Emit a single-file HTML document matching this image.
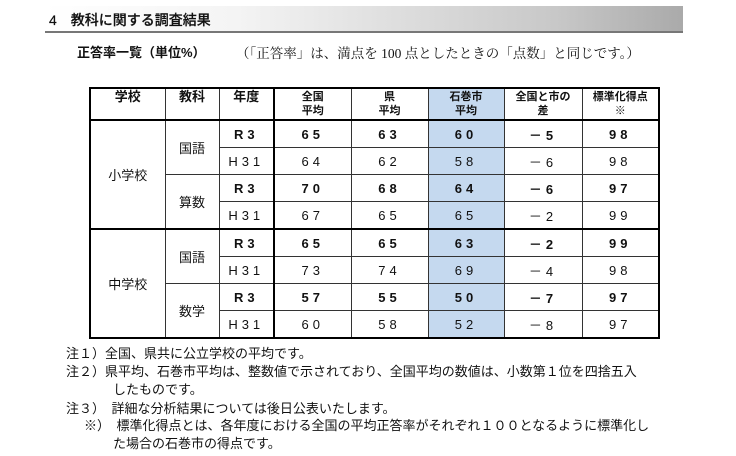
<!DOCTYPE html><html><head><meta charset="utf-8"><style>
body{margin:0;width:736px;height:456px;background:#fff;font-family:"Liberation Sans","Noto Sans CJK JP",sans-serif;color:#111;position:relative;overflow:hidden}
.bar{position:absolute;left:45px;top:6px;width:638px;height:25px;background:linear-gradient(90deg,#fff 0%,#f4f4f4 30%,#c8c8c8 80%,#aaa 100%);border-bottom:2px solid #777}
.bar span{position:absolute;left:4px;top:4px;font-size:14px;font-weight:500;-webkit-text-stroke:0.2px #111}
.t{position:absolute;font-size:13px;white-space:nowrap}
table{position:absolute;left:89px;top:87px;border-collapse:collapse;border:2px solid #000}
td{border:1px solid #333;text-align:center;font-size:13px;padding:0;height:26px;letter-spacing:4px}
tr.h td{height:29px;font-size:11px;line-height:14px;letter-spacing:0;vertical-align:top;padding-top:1px;border-bottom:2px solid #000;font-weight:bold}
tr.h td.b{font-size:13px}
.bl{background:#c5d9ef}
b{font-weight:bold}
.L{border-left:2px solid #000}
tr.s td{border-top:2px solid #000}
</style></head><body>
<div class="bar"><span>4　教科に関する調査結果</span></div>
<div class="t" style="left:77px;top:42px;font-weight:bold;font-size:13px">正答率一覧（単位%）</div>
<div class="t" style="left:236px;top:42px;font-family:'Liberation Serif','Noto Serif CJK SC',serif;font-size:13.5px">（「正答率」は、満点を 100 点としたときの「点数」と同じです。）</div>
<table>
<colgroup><col style="width:75px"><col style="width:54px"><col style="width:55px"><col style="width:77px"><col style="width:77px"><col style="width:76px"><col style="width:78px"><col style="width:77px"></colgroup>
<tr class="h"><td class="b">学校</td><td class="b">教科</td><td class="b">年度</td><td class="L">全国<br>平均</td><td>県<br>平均</td><td class="bl">石巻市<br>平均</td><td>全国と市の<br>差</td><td>標準化得点<br>※</td></tr>
<tr><td rowspan="4" style="letter-spacing:0">小学校</td><td rowspan="2" style="letter-spacing:0">国語</td><td><b>R3</b></td><td class="L"><b>65</b></td><td><b>63</b></td><td class="bl"><b>60</b></td><td><b>－5</b></td><td><b>98</b></td></tr>
<tr><td>H31</td><td class="L">64</td><td>62</td><td class="bl">58</td><td>－6</td><td>98</td></tr>
<tr><td rowspan="2" style="letter-spacing:0">算数</td><td><b>R3</b></td><td class="L"><b>70</b></td><td><b>68</b></td><td class="bl"><b>64</b></td><td><b>－6</b></td><td><b>97</b></td></tr>
<tr><td>H31</td><td class="L">67</td><td>65</td><td class="bl">65</td><td>－2</td><td>99</td></tr>
<tr class="s"><td rowspan="4" style="letter-spacing:0">中学校</td><td rowspan="2" style="letter-spacing:0">国語</td><td><b>R3</b></td><td class="L"><b>65</b></td><td><b>65</b></td><td class="bl"><b>63</b></td><td><b>－2</b></td><td><b>99</b></td></tr>
<tr><td>H31</td><td class="L">73</td><td>74</td><td class="bl">69</td><td>－4</td><td>98</td></tr>
<tr><td rowspan="2" style="letter-spacing:0">数学</td><td><b>R3</b></td><td class="L"><b>57</b></td><td><b>55</b></td><td class="bl"><b>50</b></td><td><b>－7</b></td><td><b>97</b></td></tr>
<tr><td>H31</td><td class="L">60</td><td>58</td><td class="bl">52</td><td>－8</td><td>97</td></tr>
</table>
<div class="t" style="left:66px;top:343px">注１）全国、県共に公立学校の平均です。</div>
<div class="t" style="left:66px;top:361px">注２）県平均、石巻市平均は、整数値で示されており、全国平均の数値は、小数第１位を四捨五入</div>
<div class="t" style="left:113px;top:379px">したものです。</div>
<div class="t" style="left:66px;top:398px">注３）　詳細な分析結果については後日公表いたします。</div>
<div class="t" style="left:84px;top:415px">※）　標準化得点とは、各年度における全国の平均正答率がそれぞれ１００となるように標準化し</div>
<div class="t" style="left:113px;top:433px">た場合の石巻市の得点です。</div>
</body></html>
